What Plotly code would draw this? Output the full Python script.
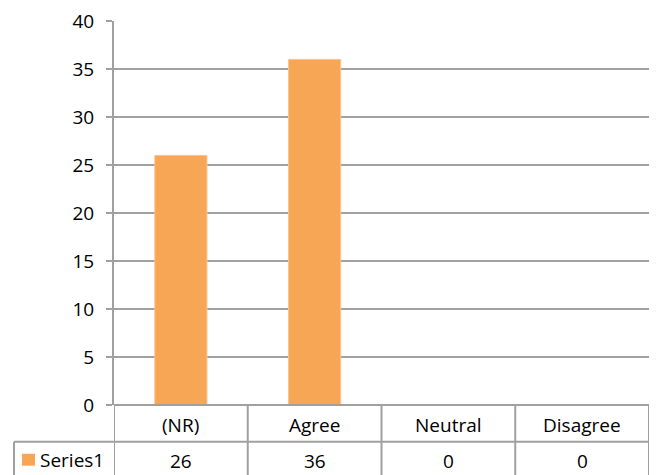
import plotly.graph_objects as go

categories = ["(NR)", "Agree", "Neutral", "Disagree"]
series_name = "Series1"
values = [26, 36, 0, 0]
y_ticks = [0, 5, 10, 15, 20, 25, 30, 35, 40]

BAR = "#F7A656"
GRID = "#A0A0A0"
FONT = "Open Sans"
FS = 19

W, H = 657, 475
L, R, T, B = 114, 8, 19, 70
plot_h = H - T - B
plot_w = W - L - R

def py(pix):
    return (H - B - pix) / plot_h

def px(pix):
    return (pix - L) / plot_w

fig = go.Figure()
fig.add_trace(go.Bar(
    x=categories, y=values, name=series_name,
    marker=dict(color=BAR, line=dict(color="#FBC48E", width=1)),
    showlegend=False,
))

shapes = []
line = dict(color=GRID, width=2)
# table horizontal lines
shapes.append(dict(type="line", xref="paper", yref="paper", x0=0, x1=1, y0=0, y1=0, line=line))
shapes.append(dict(type="line", xref="paper", yref="paper", x0=px(14), x1=1, y0=py(442), y1=py(442), line=line))
# left border of table
shapes.append(dict(type="line", xref="paper", yref="paper", x0=px(14), x1=px(14), y0=py(442), y1=py(490), line=line))
# vertical dividers at category boundaries
for k in range(len(categories) + 1):
    shapes.append(dict(type="line", xref="x", yref="paper", x0=k - 0.5, x1=k - 0.5,
                       y0=0, y1=py(490), line=line))
# legend key
shapes.append(dict(type="rect", xref="paper", yref="paper", x0=px(22), x1=px(35),
                   y0=py(466), y1=py(454), fillcolor=BAR, line=dict(width=0)))

annotations = []
for c, v in zip(categories, values):
    annotations.append(dict(x=c, xref="x", y=py(425), yref="paper", text=c, showarrow=False,
                            xanchor="center", yanchor="middle", font=dict(family=FONT, size=FS, color="#000")))
    annotations.append(dict(x=c, xref="x", y=py(461), yref="paper", text=str(v), showarrow=False,
                            xanchor="center", yanchor="middle", font=dict(family=FONT, size=FS, color="#000")))
annotations.append(dict(x=px(38), xref="paper", y=py(460), yref="paper", text=series_name, showarrow=False,
                        xanchor="left", yanchor="middle", font=dict(family=FONT, size=FS, color="#000")))

fig.update_layout(
    width=W, height=H,
    margin=dict(l=L, r=R, t=T, b=B, pad=0),
    paper_bgcolor="white", plot_bgcolor="white",
    bargap=0.61,
    shapes=shapes, annotations=annotations,
    font=dict(family=FONT, size=FS, color="#000"),
    xaxis=dict(range=[-0.5, 3.5], showticklabels=False, showgrid=False, zeroline=False,
               showline=False, ticks=""),
    yaxis=dict(range=[0, 40], tickvals=y_ticks, showgrid=True, gridcolor=GRID, gridwidth=2,
               zeroline=False, showline=True, linecolor=GRID, linewidth=2,
               ticks="outside", ticklen=6, tickcolor=GRID, tickwidth=2,
               tickfont=dict(family=FONT, size=FS, color="#000"), ticklabelstandoff=8),
)

fig.write_html("out.html", config={"displayModeBar": False},
               post_script="document.body.style.margin='0';document.body.style.overflow='hidden';")
